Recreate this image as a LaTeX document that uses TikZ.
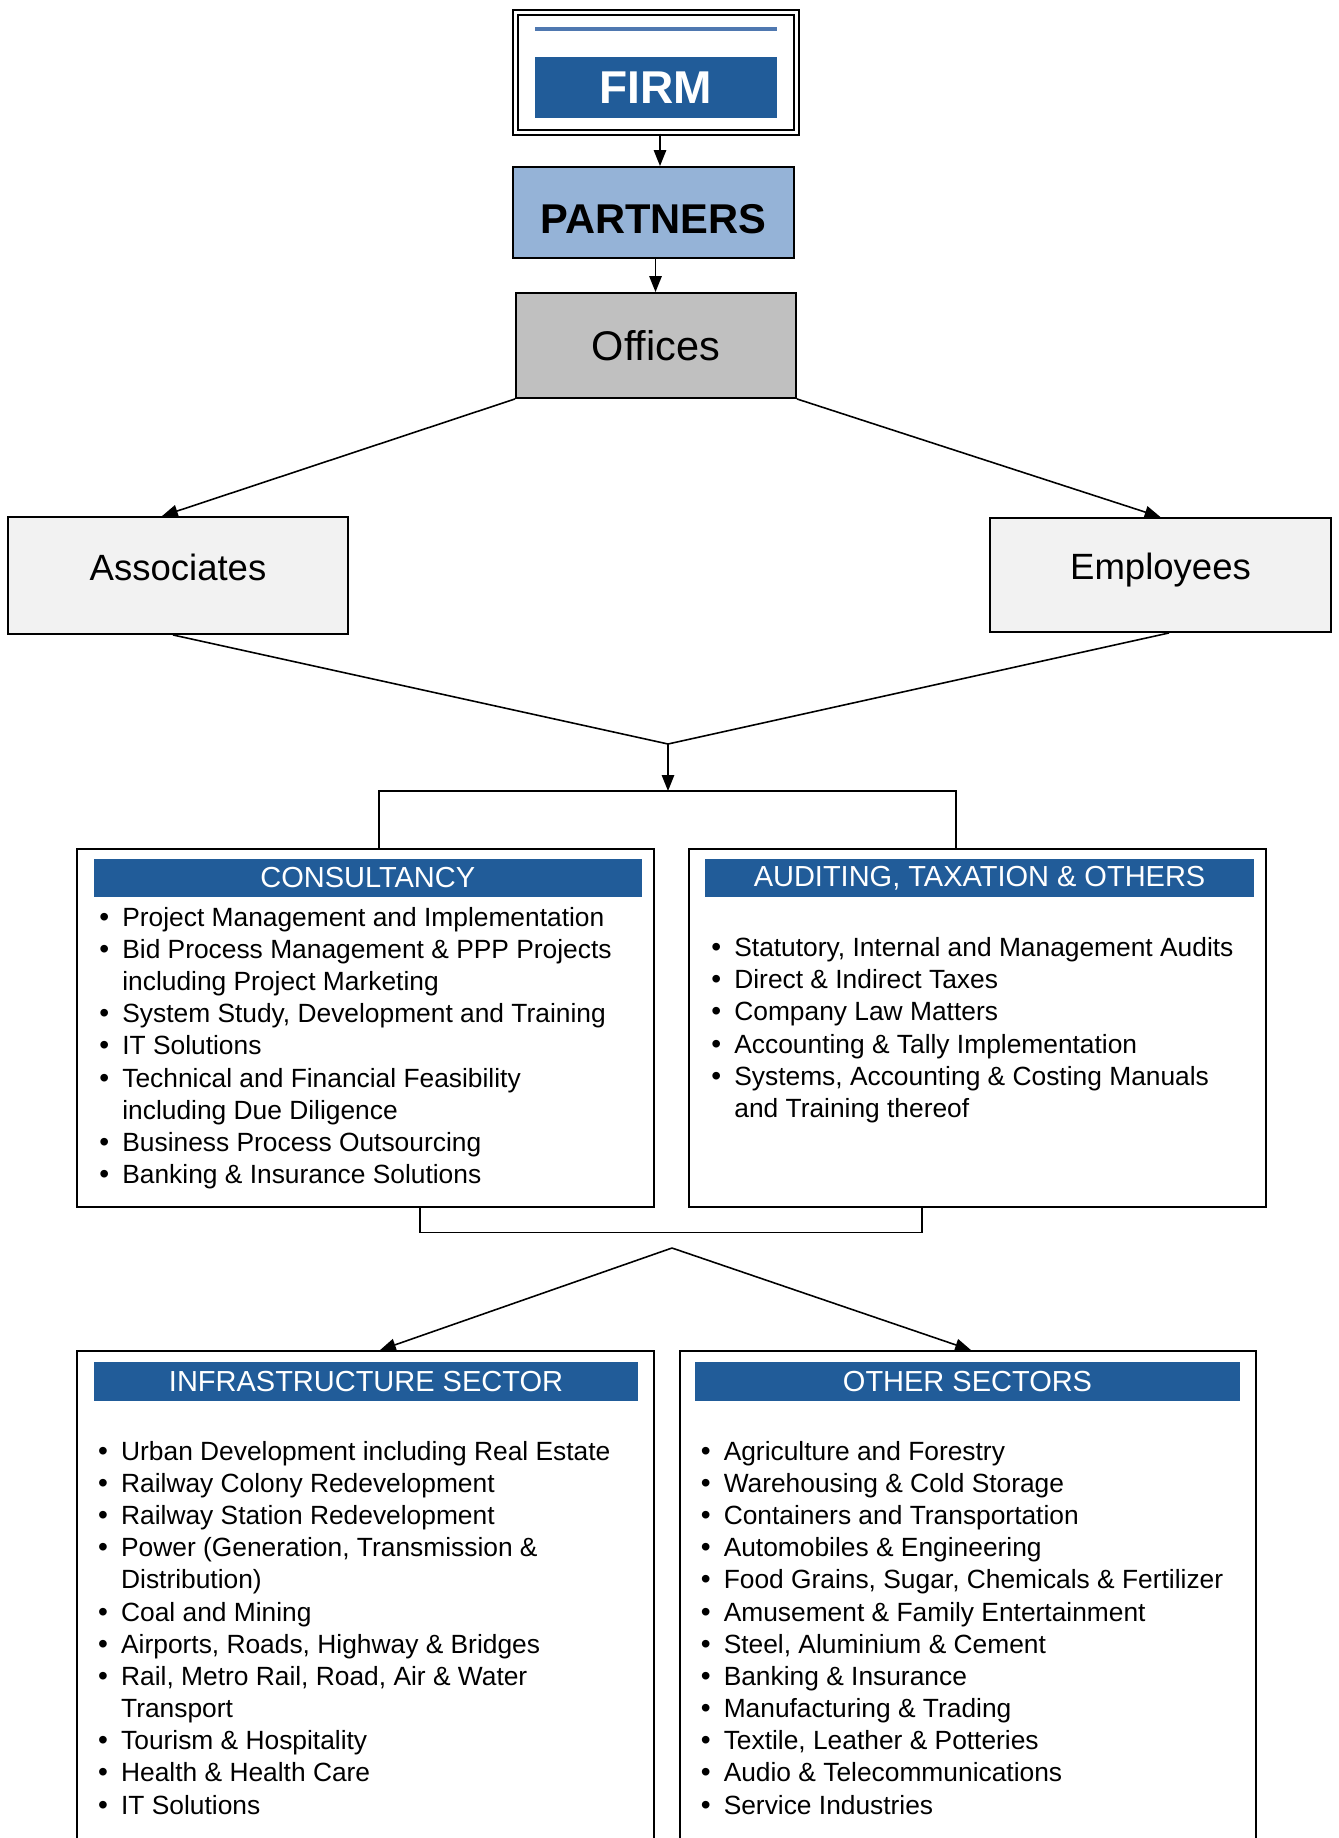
\documentclass[tikz,border=0pt]{standalone}
\usepackage{fontspec}
\setmainfont{Liberation Sans}
\usetikzlibrary{arrows.meta}

\definecolor{bannerblue}{RGB}{33,92,153}
\definecolor{lineblue}{RGB}{79,120,176}
\definecolor{partnerblue}{RGB}{149,179,215}
\definecolor{officegray}{RGB}{192,192,192}
\definecolor{staffgray}{RGB}{242,242,242}

\newcommand{\bdot}{{\fontsize{16}{0}\selectfont\textbullet}}
\newcommand{\bitem}[1]{\makebox[0.46cm][l]{\bdot}#1\\}
\newcommand{\bcont}[1]{\hspace*{0.46cm}#1\\}

\begin{document}
\begin{tikzpicture}[x=0.02cm,y=-0.02cm,
		box/.style={draw,line width=1.1pt,inner sep=0pt},
		banner/.style={fill=bannerblue,text=white,inner sep=0pt,font=\fontsize{16.5}{19}\selectfont},
		itemlist/.style={anchor=north west,inner sep=0pt,font=\fontsize{15}{18.3}\selectfont},
		arr/.style={line width=0.9pt,-{Triangle[width=7pt,length=9pt]}},
		link/.style={line width=0.9pt}]
		
		\useasboundingbox (0,0) rectangle (1338,1838);
		
		\node[draw,line width=1.3pt,double,double distance=1.3pt,minimum width=5.62cm,minimum height=2.4cm] (firm) at (656,72.5) {};
		\draw[lineblue,line width=1.8pt] (535,29)--(777,29);
		\node[banner,minimum width=4.84cm,minimum height=1.22cm,font=\fontsize{26.2}{30}\selectfont\bfseries] (firmbanner) at (656,87.5) {FIRM};
		
		\node[box,fill=partnerblue,minimum width=5.62cm,minimum height=1.82cm,text height=0.86cm,text depth=0pt,font=\fontsize{23.7}{28}\selectfont\bfseries] (partners) at (653.5,212.5) {PARTNERS};
		\node[box,fill=officegray,minimum width=5.6cm,minimum height=2.1cm,font=\fontsize{23.6}{28}\selectfont] (offices) at (656,345.5) {Offices};
		
		\node[box,fill=staffgray,minimum width=6.79cm,minimum height=2.34cm,text height=0.5cm,text depth=0.32cm,font=\fontsize{20.8}{25}\selectfont] (assoc) at (178,575.5) {Associates};
		\node[box,fill=staffgray,minimum width=6.82cm,minimum height=2.28cm,text height=0.5cm,text depth=0.32cm,font=\fontsize{20.8}{25}\selectfont] (emp) at (1160.5,575) {Employees};
		
		\coordinate (merge) at (668,744);
		\coordinate (brtop) at (668,791);
		\coordinate (brbot) at (671,1232.5);
		\coordinate (split) at (672,1248);
		
		\node[box,minimum width=11.54cm,minimum height=7.16cm] (consult) at (365.5,1028) {};
		\node[banner,minimum width=10.97cm,minimum height=0.76cm] (consultbanner) at (367.8,878) {CONSULTANCY};
		\node[itemlist] (consultlist) at (99,903.5) {\begin{tabular}{@{}l@{}}
				\bitem{Project Management and Implementation}
				\bitem{Bid Process Management \& PPP Projects}
				\bcont{including Project Marketing}
				\bitem{System Study, Development and Training}
				\bitem{IT Solutions}
				\bitem{Technical and Financial Feasibility}
				\bcont{including Due Diligence}
				\bitem{Business Process Outsourcing}
				\bitem{Banking \& Insurance Solutions}
			\end{tabular}};
		
		\node[box,minimum width=11.54cm,minimum height=7.16cm] (audit) at (977.5,1028) {};
		\node[banner,minimum width=10.98cm,minimum height=0.76cm] (auditbanner) at (979.5,878) {AUDITING, TAXATION \& OTHERS};
		\node[itemlist] (auditlist) at (711,933.8) {\begin{tabular}{@{}l@{}}
				\bitem{Statutory, Internal and Management Audits}
				\bitem{Direct \& Indirect Taxes}
				\bitem{Company Law Matters}
				\bitem{Accounting \& Tally Implementation}
				\bitem{Systems, Accounting \& Costing Manuals}
				\bcont{and Training thereof}
			\end{tabular}};
		
		\node[box,minimum width=11.54cm,minimum height=10.98cm] (infra) at (365.5,1625.5) {};
		\node[banner,minimum width=10.88cm,minimum height=0.78cm] (infrabanner) at (366,1381.5) {INFRASTRUCTURE SECTOR};
		\node[itemlist] (infralist) at (97.8,1437.5) {\begin{tabular}{@{}l@{}}
				\bitem{Urban Development including Real Estate}
				\bitem{Railway Colony Redevelopment}
				\bitem{Railway Station Redevelopment}
				\bitem{Power (Generation, Transmission \&}
				\bcont{Distribution)}
				\bitem{Coal and Mining}
				\bitem{Airports, Roads, Highway \& Bridges}
				\bitem{Rail, Metro Rail, Road, Air \& Water}
				\bcont{Transport}
				\bitem{Tourism \& Hospitality}
				\bitem{Health \& Health Care}
				\bitem{IT Solutions}
			\end{tabular}};
		
		\node[box,minimum width=11.52cm,minimum height=10.98cm] (other) at (968,1625.5) {};
		\node[banner,minimum width=10.9cm,minimum height=0.78cm] (otherbanner) at (967.5,1381.5) {OTHER SECTORS};
		\node[itemlist] (otherlist) at (700.4,1437.5) {\begin{tabular}{@{}l@{}}
				\bitem{Agriculture and Forestry}
				\bitem{Warehousing \& Cold Storage}
				\bitem{Containers and Transportation}
				\bitem{Automobiles \& Engineering}
				\bitem{Food Grains, Sugar, Chemicals \& Fertilizer}
				\bitem{Amusement \& Family Entertainment}
				\bitem{Steel, Aluminium \& Cement}
				\bitem{Banking \& Insurance}
				\bitem{Manufacturing \& Trading}
				\bitem{Textile, Leather \& Potteries}
				\bitem{Audio \& Telecommunications}
				\bitem{Service Industries}
			\end{tabular}};
		
		\draw[arr] ([xshift=0.08cm]firm.south) -- ([xshift=0.08cm]firm.south |- partners.north);
		\draw[arr] ([xshift=0.04cm]partners.south) -- ([xshift=0.04cm]partners.south |- offices.north);
		\draw[arr] (offices.south west) -- ([xshift=-0.32cm]assoc.north);
		\draw[arr] (offices.south east) -- (emp.north);
		\draw[link] ([xshift=-0.1cm]assoc.south) -- (merge) -- ([xshift=0.17cm]emp.south);
		\draw[arr] (merge) -- (brtop);
		\draw[link] ([xshift=0.27cm]consult.north) |- (brtop) -| ([xshift=-0.43cm]audit.north);
		\draw[link] ([xshift=1.09cm]consult.south) |- (brbot) -| ([xshift=-1.11cm]audit.south);
		\draw[arr] (split) -- ([xshift=0.29cm]infra.north);
		\draw[arr] (split) -- ([xshift=0.06cm]other.north);
		
\end{tikzpicture}
\end{document}
